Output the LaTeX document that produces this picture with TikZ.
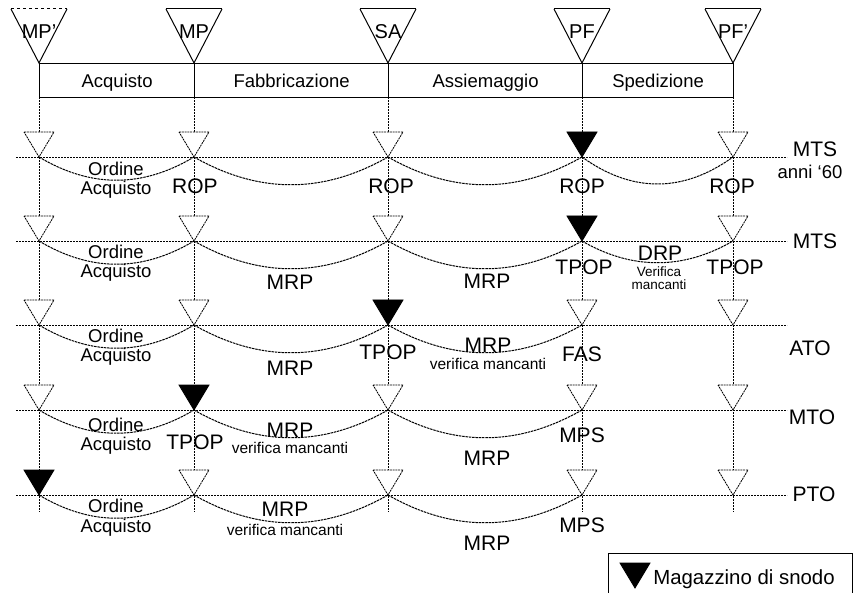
\documentclass[tikz,border=0pt]{standalone}
\usepackage{fontspec}
\setmainfont{Liberation Sans}
\begin{document}
\begin{tikzpicture}[x=1pt,y=-1pt,
  grid/.style={line width=0.8pt, dash pattern=on 2pt off 1pt},
  curve/.style={line width=1pt, dash pattern=on 2.5pt off 0.8pt},
  frame/.style={draw, line width=1.2pt, minimum height=34pt, inner sep=0pt},
  lbl/.style={inner sep=0pt, anchor=center, text depth=0pt},
  big/.style={lbl, font=\fontsize{21}{21}\selectfont, text height=15pt},
  mid/.style={lbl, font=\fontsize{18.5}{18.5}\selectfont, text height=13.2pt},
  sml/.style={lbl, font=\fontsize{15.5}{15.5}\selectfont, text height=11.1pt},
  tny/.style={lbl, font=\fontsize{13.5}{13.5}\selectfont, text height=9.7pt},
  tri/.style={lbl, font=\fontsize{20}{20}\selectfont, text height=14.3pt},
  leg/.style={lbl, font=\fontsize{20.4}{20.4}\selectfont, text height=14.6pt},
  pics/stock/.style={code={
    \draw[line width=0.8pt, dash pattern=on 2pt off 0.8pt, fill=white]
      (-15,-25) -- (15,-25) -- (0,0) -- cycle;}},
  pics/node stock/.style={code={
    \draw[line width=0.8pt, fill=black] (-15,-25) -- (15,-25) -- (0,0) -- cycle;}},
  pics/top stock/.style={code={
    \draw[line width=1pt, fill=white] (28,-54) -- (0,0) -- (-28,-54);
    \draw[line width=1pt, #1] (-28,-54) -- (28,-54);}},
  pics/top stock/.default=solid,
]
\useasboundingbox (0,0) rectangle (856,593);

% column and row positions
\foreach \c/\x in {1/39,2/194,3/388,4/582,5/733}{
  \coordinate (t\c) at (\x,97);
  \coordinate (b\c) at (\x,512);
  \coordinate (k\c) at (\x,63);
  \foreach \r/\y in {1/157,2/241,3/325,4/410,5/495}{
    \coordinate (p\r\c) at (\x,\y);
  }
}
\foreach \r/\y in {1/157,2/241,3/325,4/410,5/495}{
  \coordinate (L\r) at (16,\y);
  \coordinate (R\r) at (787,\y);
}

% process phases
\node[frame, minimum width=155pt, anchor=north west] (acq) at (39,63) {};
\node[frame, minimum width=194pt, anchor=north west] (fab) at (194,63) {};
\node[frame, minimum width=194pt, anchor=north west] (ass) at (388,63) {};
\node[frame, minimum width=151pt, anchor=north west] (spe) at (582,63) {};
\node[mid] (acqT) at (acq.center) {Acquisto};
\node[mid] (fabT) at (fab.center) {Fabbricazione};
\node[mid] (assT) at (ass.center) {Assiemaggio};
\node[mid] (speT) at (spe.center) {Spedizione};

% stock points above the phases
\pic at (k1) {top stock=dashed};
\pic at (k2) {top stock};
\pic at (k3) {top stock};
\pic at (k4) {top stock};
\pic at (k5) {top stock};
\node[tri] (mp1) at (39,31) {MP’};
\node[tri] (mp) at (194,31) {MP};
\node[tri] (sa) at (388,31) {SA};
\node[tri] (pf) at (582,31) {PF};
\node[tri] (pf1) at (733,31) {PF’};

% grid lines
\foreach \c in {1,...,5}{ \draw[grid] (t\c) -- (b\c); }
\foreach \r in {1,...,5}{ \draw[grid] (L\r) -- (R\r); }

% stock markers per strategy
\foreach \r/\n in {1/4,2/4,3/3,4/2,5/1}{
  \foreach \c in {1,...,5}{
    \ifnum\c=\n
      \pic at (p\r\c) {node stock};
    \else
      \pic at (p\r\c) {stock};
    \fi
  }
}

% planning links
\foreach \r in {1,...,5}{
  \draw[curve] (p\r1) .. controls +(52,31) and +(-52,31) .. (p\r2);
  \draw[curve] (p\r2) .. controls +(65,37) and +(-65,37) .. (p\r3);
  \draw[curve] (p\r3) .. controls +(65,37) and +(-65,37) .. (p\r4);
}
\draw[curve] (p14) .. controls +(50,36) and +(-50,36) .. (p15);
\draw[curve] (p24) .. controls +(50,29) and +(-50,29) .. (p25);

% strategy names
\node[big] (s1) at (815,149) {MTS};
\node[mid] (s1b) at (810,172) {anni ‘60};
\node[big] (s2) at (815,241) {MTS};
\node[big] (s3) at (810,348) {ATO};
\node[big] (s4) at (812,417) {MTO};
\node[big] (s5) at (814,494) {PTO};

% purchase orders
\foreach \r/\y in {1/169,2/252,3/336,4/425,5/506}{
  \node[mid] (oa\r) at (116,\y) {Ordine};
}
\foreach \r/\y in {1/188,2/271,3/355,4/444,5/526}{
  \node[mid] (ob\r) at (116,\y) {Acquisto};
}

% row 1
\node[big] (rop2) at (195,186) {ROP};
\node[big] (rop3) at (391,186) {ROP};
\node[big] (rop4) at (582,186) {ROP};
\node[big] (rop5) at (732,186) {ROP};

% row 2
\node[big] (mrp22) at (290,282) {MRP};
\node[big] (mrp23) at (487,281) {MRP};
\node[big] (tpop24) at (584,267) {TPOP};
\node[big] (drp) at (660,253) {DRP};
\node[tny] (drpa) at (659,272) {Verifica};
\node[tny] (drpb) at (659,285) {mancanti};
\node[big] (tpop25) at (735,267) {TPOP};

% row 3
\node[big] (mrp32) at (290,368) {MRP};
\node[big] (tpop33) at (388,352) {TPOP};
\node[big] (mrp33) at (488,345) {MRP};
\node[sml] (vm33) at (488,364) {verifica mancanti};
\node[big] (fas) at (582,354) {FAS};

% row 4
\node[big] (tpop42) at (195,442) {TPOP};
\node[big] (mrp42) at (290,430) {MRP};
\node[sml] (vm42) at (290,448) {verifica mancanti};
\node[big] (mrp43) at (487,458) {MRP};
\node[big] (mps4) at (582,435) {MPS};

% row 5
\node[big] (mrp52) at (285,509) {MRP};
\node[sml] (vm52) at (285,530) {verifica mancanti};
\node[big] (mrp53) at (487,543) {MRP};
\node[big] (mps5) at (582,525) {MPS};

% legend
\node[draw, line width=1pt, minimum width=244pt, minimum height=50pt,
      anchor=north west, inner sep=0pt] (leg) at (608,553) {};
\coordinate (legmark) at (635,588);
\pic at (legmark) {node stock};
\node[leg] (legT) at (744,577) {Magazzino di snodo};
\end{tikzpicture}
\end{document}
